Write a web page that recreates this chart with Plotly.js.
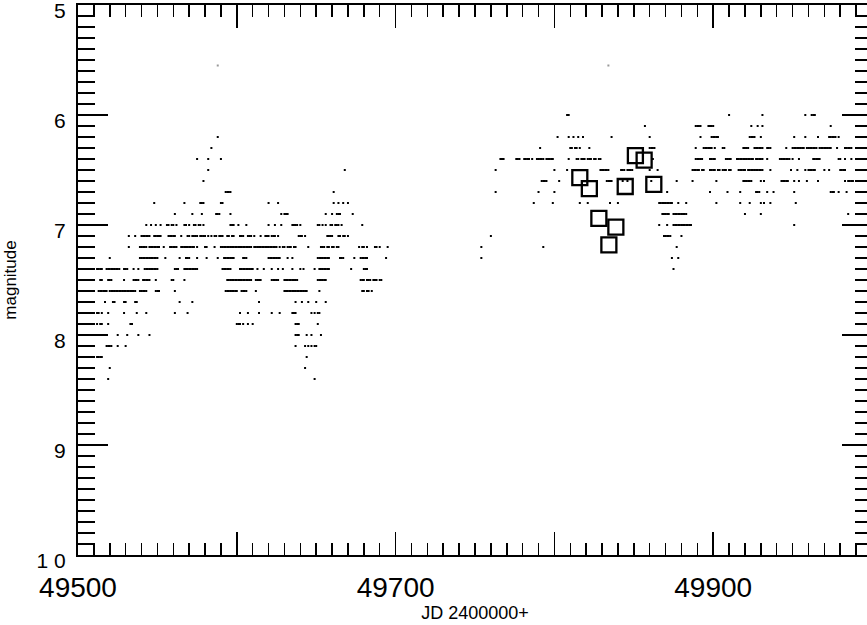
<!DOCTYPE html>
<html>
<head>
<meta charset="utf-8">
<script src="https://cdn.plot.ly/plotly-3.0.1.min.js"></script>
<style>
html, body { margin: 0; padding: 0; overflow: hidden; background: #fff; }
#chart { width: 880px; height: 625px; }
</style>
</head>
<body>
<div id="chart"></div>
<script>
// Observation dates (JD - 2400000) grouped by visual magnitude row
const d555 = [49588, 49834];
const d60 = [49808, 49809, 49910, 49931, 49958, 49962, 49963, 49964];
const d61 = [49857, 49889, 49890, 49891, 49892, 49897, 49898, 49899, 49900, 49924, 49928, 49931, 49974];
const d62 = [49588,
  49802, 49809, 49812, 49815, 49818, 49836, 49860, 49892, 49899, 49900, 49901, 49902, 49903, 49923, 49924, 49925, 49926, 49930, 49951, 49958, 49966, 49973, 49974, 49975, 49976, 49977, 49979];
const d63 = [49584,
  49791, 49810, 49811, 49813, 49814, 49816, 49822, 49860, 49861, 49862, 49863, 49889, 49894, 49895, 49896, 49897, 49898, 49899, 49901, 49906, 49907, 49919, 49920, 49921, 49922, 49926, 49927, 49928, 49929, 49930, 49931, 49934, 49935, 49936, 49946, 49950, 49951, 49952, 49953, 49954, 49955, 49956, 49957, 49959, 49960, 49961, 49962, 49963, 49964, 49965, 49967, 49968, 49969, 49970, 49971, 49972, 49973, 49974, 49978, 49983, 49984, 49985, 49986, 49987];
const d64 = [49575, 49582, 49590,
  49766, 49767, 49768, 49776, 49777, 49778, 49781, 49782, 49783, 49784, 49786, 49789, 49790, 49791, 49792, 49793, 49795, 49796, 49797, 49798, 49799, 49809, 49814, 49815, 49817, 49818, 49819, 49821, 49822, 49823, 49825, 49826, 49828, 49829, 49862, 49889, 49890, 49891, 49892, 49893, 49898, 49899, 49900, 49901, 49908, 49909, 49910, 49911, 49915, 49916, 49917, 49918, 49919, 49920, 49921, 49922, 49923, 49924, 49925, 49927, 49928, 49929, 49930, 49931, 49934, 49942, 49943, 49944, 49945, 49946, 49947, 49948, 49950, 49954, 49963, 49964, 49965, 49966, 49967, 49979, 49980, 49983, 49987];
const d65 = [49582, 49668,
  49763, 49800, 49808, 49829, 49830, 49831, 49832, 49833, 49834, 49842, 49843, 49844, 49846, 49847, 49848, 49849, 49860, 49865, 49887, 49888, 49889, 49890, 49891, 49893, 49894, 49898, 49899, 49900, 49901, 49903, 49904, 49906, 49907, 49908, 49910, 49911, 49916, 49917, 49918, 49919, 49920, 49922, 49923, 49924, 49925, 49926, 49927, 49928, 49929, 49930, 49931, 49936, 49949, 49953, 49958, 49960, 49961, 49962, 49963, 49964, 49970, 49973, 49980, 49981, 49982, 49983];
const d66 = [49579,
  49792, 49793, 49794, 49795, 49803, 49833, 49834, 49835, 49836, 49843, 49846, 49861, 49877, 49887, 49902, 49919, 49920, 49921, 49922, 49923, 49924, 49930, 49932, 49943, 49944, 49945, 49946, 49947, 49951, 49954, 49959, 49966, 49983, 49985, 49986, 49987, 49988];
const d67 = [49593, 49594, 49595, 49596, 49661,
  49763, 49790, 49800, 49871, 49898, 49909, 49917, 49927, 49928, 49929, 49934, 49938, 49951, 49974, 49975, 49976, 49979, 49984];
const d68 = [49548, 49567, 49577, 49578, 49579, 49590, 49591, 49620, 49626, 49661, 49664, 49667, 49670,
  49787, 49799, 49816, 49821, 49835, 49840, 49866, 49867, 49868, 49869, 49870, 49871, 49872, 49873, 49874, 49878, 49883, 49902, 49917, 49923, 49930, 49932, 49936, 49952];
const d69 = [49561, 49572, 49578, 49587, 49588, 49589, 49596, 49628, 49630, 49631, 49632, 49656, 49660, 49663, 49664, 49665, 49673,
  49868, 49869, 49870, 49871, 49872, 49875, 49876, 49877, 49878, 49879, 49880, 49881, 49882, 49883, 49920, 49930, 49985];
const d70 = [49543, 49546, 49549, 49552, 49556, 49557, 49559, 49560, 49562, 49567, 49568, 49570, 49573, 49574, 49576, 49577, 49579, 49596, 49597, 49598, 49601, 49606, 49620, 49624, 49628, 49635, 49636, 49637, 49638, 49640, 49651, 49652, 49654, 49656, 49659, 49660, 49662, 49663, 49664, 49666, 49679,
  49866, 49871, 49875, 49876, 49877, 49878, 49879, 49880, 49881, 49882, 49883, 49884, 49885, 49886, 49951];
const d71 = [49532, 49536, 49540, 49541, 49542, 49543, 49544, 49545, 49548, 49549, 49550, 49551, 49552, 49557, 49558, 49559, 49560, 49561, 49565, 49569, 49570, 49572, 49573, 49574, 49575, 49577, 49578, 49579, 49580, 49582, 49584, 49586, 49587, 49589, 49590, 49591, 49594, 49595, 49597, 49598, 49602, 49603, 49604, 49607, 49608, 49609, 49611, 49615, 49618, 49619, 49620, 49622, 49623, 49624, 49626, 49639, 49640, 49641, 49643, 49657, 49658, 49659, 49660, 49664, 49665, 49667, 49668, 49670,
  49760, 49869, 49870, 49871, 49872, 49873, 49880];
const d72 = [49532, 49539, 49540, 49541, 49542, 49543, 49545, 49546, 49547, 49548, 49549, 49550, 49551, 49554, 49558, 49559, 49560, 49561, 49562, 49565, 49566, 49567, 49568, 49569, 49570, 49571, 49572, 49573, 49575, 49580, 49581, 49586, 49590, 49591, 49592, 49593, 49594, 49595, 49596, 49597, 49598, 49599, 49600, 49601, 49602, 49603, 49604, 49605, 49606, 49607, 49608, 49609, 49611, 49612, 49613, 49614, 49615, 49616, 49617, 49618, 49619, 49620, 49621, 49622, 49623, 49624, 49625, 49627, 49629, 49630, 49632, 49633, 49634, 49636, 49637, 49645, 49653, 49654, 49655, 49657, 49658, 49660, 49661, 49663, 49664, 49677, 49679, 49680, 49682, 49687, 49688, 49690, 49695,
  49754, 49793, 49877];
const d73 = [49520, 49539, 49540, 49541, 49542, 49543, 49544, 49545, 49546, 49547, 49548, 49549, 49550, 49555, 49564, 49568, 49569, 49570, 49575, 49581, 49588, 49592, 49593, 49594, 49595, 49596, 49597, 49598, 49604, 49605, 49606, 49620, 49621, 49622, 49623, 49624, 49625, 49626, 49627, 49632, 49635, 49651, 49652, 49653, 49654, 49655, 49656, 49657, 49658, 49665, 49666, 49667, 49674, 49678, 49679, 49680, 49681, 49682, 49694,
  49754, 49874, 49878];
const d74 = [49512, 49513, 49514, 49515, 49518, 49519, 49520, 49521, 49522, 49523, 49524, 49525, 49526, 49529, 49530, 49531, 49535, 49538, 49542, 49543, 49544, 49545, 49546, 49547, 49548, 49549, 49550, 49561, 49562, 49563, 49567, 49568, 49569, 49570, 49571, 49572, 49573, 49574, 49575, 49591, 49592, 49593, 49594, 49595, 49596, 49602, 49603, 49604, 49605, 49606, 49607, 49608, 49609, 49610, 49613, 49617, 49622, 49626, 49629, 49635, 49640, 49642, 49649, 49652, 49653, 49654, 49655, 49656, 49657, 49658, 49672, 49680, 49681, 49682,
  49875];
const d75 = [49514, 49515, 49519, 49520, 49521, 49529, 49535, 49536, 49537, 49538, 49541, 49542, 49543, 49544, 49545, 49549, 49559, 49560, 49567, 49594, 49595, 49596, 49597, 49598, 49599, 49600, 49601, 49602, 49603, 49604, 49605, 49606, 49607, 49608, 49609, 49612, 49613, 49614, 49615, 49622, 49623, 49624, 49625, 49626, 49630, 49631, 49632, 49633, 49634, 49635, 49636, 49637, 49638, 49651, 49652, 49653, 49654, 49655, 49656, 49678, 49679, 49680, 49682, 49683, 49684, 49686, 49687, 49688, 49690, 49691];
const d76 = [49513, 49514, 49515, 49516, 49517, 49518, 49520, 49521, 49522, 49523, 49524, 49525, 49526, 49527, 49528, 49529, 49530, 49531, 49532, 49533, 49534, 49535, 49536, 49539, 49540, 49541, 49542, 49543, 49549, 49550, 49551, 49561, 49593, 49594, 49595, 49596, 49597, 49598, 49599, 49600, 49603, 49604, 49605, 49606, 49612, 49630, 49631, 49632, 49633, 49634, 49635, 49636, 49637, 49638, 49639, 49640, 49641, 49642, 49643, 49644, 49652, 49679, 49680, 49682, 49683, 49685];
const d77 = [49517, 49522, 49523, 49529, 49530, 49536, 49537, 49564, 49572, 49614, 49637, 49641, 49645, 49650, 49656];
const d78 = [49512, 49513, 49515, 49519, 49529, 49537, 49543, 49561, 49569, 49602, 49607, 49614, 49622, 49627, 49635, 49636, 49637, 49647, 49649, 49651, 49652];
const d79 = [49512, 49514, 49515, 49519, 49533, 49534, 49600, 49601, 49602, 49604, 49607, 49610, 49637, 49638, 49639, 49651];
const d80 = [49525, 49531, 49538, 49545, 49637, 49638, 49639, 49644, 49647, 49653];
const d81 = [49518, 49519, 49520, 49521, 49525, 49530, 49637, 49643, 49645, 49647, 49649, 49650];
const d82 = [49512, 49513, 49514, 49515, 49644];
const d83 = [49520, 49643];
const d84 = [49519, 49649];

const rowMags = [6.0, 6.1, 6.2, 6.3, 6.4, 6.5, 6.6, 6.7, 6.8, 6.9, 7.0, 7.1, 7.2, 7.3, 7.4, 7.5, 7.6, 7.7, 7.8, 7.9, 8.0, 8.1, 8.2, 8.3, 8.4];
const rowDates = [d60, d61, d62, d63, d64, d65, d66, d67, d68, d69, d70, d71, d72, d73, d74, d75, d76, d77, d78, d79, d80, d81, d82, d83, d84];
const faintMag = [5.55, 5.55];

// Highlighted observations (open squares)
const sqJD = [49851, 49856.5, 49816, 49822, 49844.6, 49862.6, 49828, 49838.7, 49834.3];
const sqMag = [6.37, 6.41, 6.57, 6.67, 6.65, 6.63, 6.94, 7.02, 7.18];

// Axis ticks
const xTickVals = [49500, 49600, 49700, 49800, 49900, 50000];
const xTickText = ['49500', '', '49700', '', '49900', ''];
const yTickVals = [5, 6, 7, 8, 9, 10];
const yTickText = ['5', '6', '7', '8', '9', '1 0'];

const ptsX = [], ptsY = [];
rowMags.forEach((m, i) => rowDates[i].forEach(d => { ptsX.push(d); ptsY.push(m); }));

const traces = [
  { type: 'scatter', mode: 'markers', x: d555, y: faintMag,
    marker: { symbol: 'square', size: 2, color: '#999' }, hoverinfo: 'skip' },
  { type: 'scatter', mode: 'markers', x: ptsX, y: ptsY,
    marker: { symbol: 'square', size: 2, color: '#000' }, hoverinfo: 'skip' },
  { type: 'scatter', mode: 'markers', x: sqJD, y: sqMag,
    marker: { symbol: 'square-open', size: 15, color: '#000', line: { width: 2.3, color: '#000' } }, hoverinfo: 'skip' }
];

const layout = {
  width: 880, height: 625,
  margin: { l: 78, r: 8, t: 5, b: 70 },
  paper_bgcolor: '#fff', plot_bgcolor: '#fff',
  showlegend: false,
  font: { family: 'Liberation Sans, Arial, sans-serif', color: '#000' },
  xaxis: {
    range: [49500, 50000],
    showgrid: false, zeroline: false,
    showline: true, linecolor: '#000', linewidth: 2, mirror: 'allticks',
    ticks: 'inside', ticklen: 23, tickwidth: 1.5, tickcolor: '#000',
    tickmode: 'array', tickvals: xTickVals, ticktext: xTickText,
    tickfont: { size: 28, color: '#000', family: 'Liberation Sans, Arial, sans-serif' },
    ticklabelstandoff: 6,
    minor: { ticks: 'inside', ticklen: 12, tickwidth: 1.5, tickcolor: '#000', tickmode: 'linear', tick0: 49500, dtick: 10, showgrid: false },
    title: { text: 'JD 2400000+', font: { size: 18, color: '#000' }, standoff: 4 }
  },
  yaxis: {
    range: [10, 5],
    showgrid: false, zeroline: false,
    showline: true, linecolor: '#000', linewidth: 2, mirror: 'allticks',
    ticks: 'inside', ticklen: 30, tickwidth: 1.5, tickcolor: '#000',
    tickmode: 'array', tickvals: yTickVals, ticktext: yTickText,
    tickfont: { size: 21, color: '#000', family: 'Liberation Sans, Arial, sans-serif' },
    ticklabelstandoff: 6,
    ticklabelshift: -6,
    ticklabeloverflow: 'allow',
    minor: { ticks: 'inside', ticklen: 17, tickwidth: 1.5, tickcolor: '#000', tickmode: 'linear', tick0: 5, dtick: 0.1, showgrid: false },
    title: { text: 'magnitude', font: { size: 17, color: '#000' }, standoff: 16 }
  }
};

Plotly.newPlot('chart', traces, layout, { displayModeBar: false, staticPlot: true });
</script>
</body>
</html>
